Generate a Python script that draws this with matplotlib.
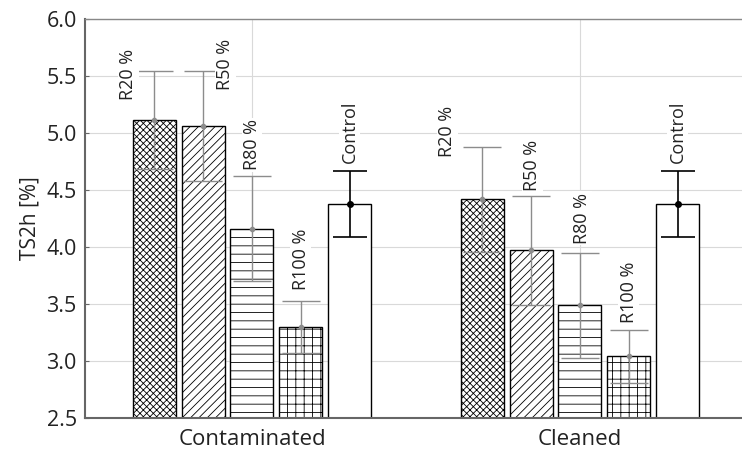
import numpy as np
import matplotlib
matplotlib.use("Agg")
from matplotlib import pyplot as plt

plt.rcParams['font.family'] = ['Open Sans', 'DejaVu Sans']
plt.rcParams['hatch.linewidth'] = 0.6

groups = ['Contaminated', 'Cleaned']
series = ['R20 %', 'R50 %', 'R80 %', 'R100 %', 'Control']
contaminated = [5.11, 5.06, 4.16, 3.30, 4.38]
contaminated_err = [0.43, 0.48, 0.46, 0.23, 0.29]
cleaned = [4.42, 3.97, 3.49, 3.04, 4.38]
cleaned_err = [0.46, 0.48, 0.46, 0.23, 0.29]
yticks = [2.5, 3.0, 3.5, 4.0, 4.5, 5.0, 5.5, 6.0]

hatches = ['xxxxx', '////', '--', '++', '']
# label offsets (pixels) relative to top of the error bar
label_off = [
    [(-26, -29), (22, -19), (0, 6), (0, 11), (0, 8)],
    [(-35, -10), (1, 5), (2, 9), (0, 7), (0, 8)],
]

fig = plt.figure(figsize=(7.42, 4.51), dpi=100)
ax = fig.add_axes([0.1146, 0.0732, 0.8854, 0.8846])

step = 0.149
width = 0.131
data = [(contaminated, contaminated_err), (cleaned, cleaned_err)]
for g, (vals, errs) in enumerate(data):
    for i, (v, e) in enumerate(zip(vals, errs)):
        x = g + (i - 2) * step
        ax.bar(x, v - 2.5, bottom=2.5, width=width, facecolor='white',
               edgecolor='black', linewidth=1, hatch=hatches[i], zorder=2)
        if series[i] == 'Control':
            ax.errorbar(x, v, yerr=e, fmt='o', color='black', ms=4,
                        elinewidth=1.2, capsize=12, capthick=1.2, zorder=4)
        else:
            ax.errorbar(x, v, yerr=e, fmt='o', color='#8c8c8c', ms=3,
                        elinewidth=1, capsize=14, capthick=1, zorder=4)
        dx, dy = label_off[g][i]
        ax.annotate(series[i], (x, v + e), xytext=(dx, dy),
                    textcoords='offset pixels', rotation=90,
                    ha='center', va='bottom', fontsize=13, color='#222222',
                    bbox=dict(facecolor='white', edgecolor='none', pad=1),
                    zorder=5)

ax.set_xlim(-0.509, 1.494)
ax.set_ylim(2.5, 6.0)
ax.set_yticks(yticks)
ax.set_yticklabels(['%.1f' % t for t in yticks], fontsize=15.5, color='#222222')
ax.set_xticks([0, 1])
ax.set_xticklabels(groups, fontsize=16, color='#222222')
ax.set_ylabel('TS2h [%]', fontsize=15, color='#222222', labelpad=4)

ax.grid(True, color='#d9d9d9', linewidth=0.8, zorder=0)
ax.set_axisbelow(True)
ax.tick_params(axis='both', length=3, direction='in', color='#666666')
ax.tick_params(axis='y', pad=6)
ax.tick_params(axis='x', pad=8)
for s in ['left', 'bottom']:
    ax.spines[s].set_color('#666666')
    ax.spines[s].set_linewidth(1.5)
ax.spines['top'].set_color('#888888')
ax.spines['top'].set_linewidth(1)
ax.spines['right'].set_visible(False)

fig.savefig('out.png', dpi=100)
